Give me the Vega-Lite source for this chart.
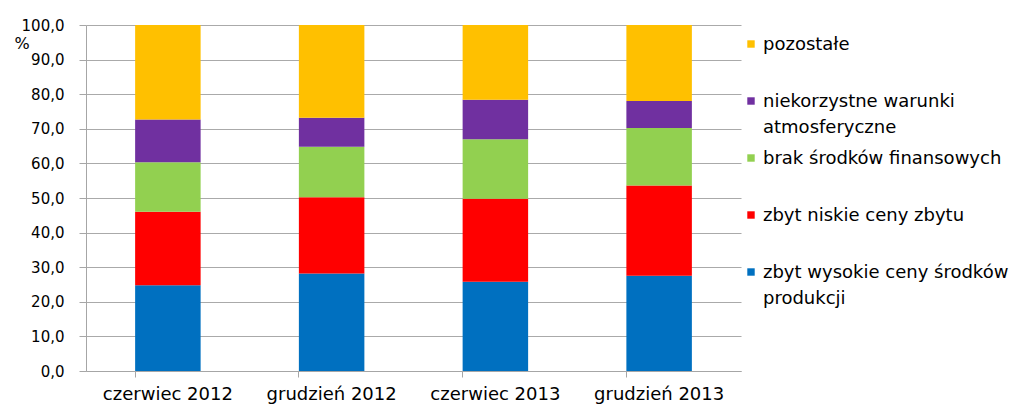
{
  "$schema": "https://vega.github.io/schema/vega-lite/v6.json",
  "autosize": "none",
  "width": 655,
  "height": 346,
  "padding": {"left": 86, "top": 25, "right": 278, "bottom": 38},
  "background": "white",
  "config": {"view": {"stroke": null}, "font": "DejaVu Sans"},
  "data": {"values": [
    {"okres": "czerwiec 2012", "kat": "zbyt wysokie ceny środków produkcji", "k": 1, "v": 24.8},
    {"okres": "czerwiec 2012", "kat": "zbyt niskie ceny zbytu", "k": 2, "v": 21.2},
    {"okres": "czerwiec 2012", "kat": "brak środków finansowych", "k": 3, "v": 14.3},
    {"okres": "czerwiec 2012", "kat": "niekorzystne warunki atmosferyczne", "k": 4, "v": 12.4},
    {"okres": "czerwiec 2012", "kat": "pozostałe", "k": 5, "v": 27.3},
    {"okres": "grudzień 2012", "kat": "zbyt wysokie ceny środków produkcji", "k": 1, "v": 28.2},
    {"okres": "grudzień 2012", "kat": "zbyt niskie ceny zbytu", "k": 2, "v": 22.0},
    {"okres": "grudzień 2012", "kat": "brak środków finansowych", "k": 3, "v": 14.6},
    {"okres": "grudzień 2012", "kat": "niekorzystne warunki atmosferyczne", "k": 4, "v": 8.4},
    {"okres": "grudzień 2012", "kat": "pozostałe", "k": 5, "v": 26.8},
    {"okres": "czerwiec 2013", "kat": "zbyt wysokie ceny środków produkcji", "k": 1, "v": 25.8},
    {"okres": "czerwiec 2013", "kat": "zbyt niskie ceny zbytu", "k": 2, "v": 24.0},
    {"okres": "czerwiec 2013", "kat": "brak środków finansowych", "k": 3, "v": 17.2},
    {"okres": "czerwiec 2013", "kat": "niekorzystne warunki atmosferyczne", "k": 4, "v": 11.4},
    {"okres": "czerwiec 2013", "kat": "pozostałe", "k": 5, "v": 21.6},
    {"okres": "grudzień 2013", "kat": "zbyt wysokie ceny środków produkcji", "k": 1, "v": 27.5},
    {"okres": "grudzień 2013", "kat": "zbyt niskie ceny zbytu", "k": 2, "v": 26.1},
    {"okres": "grudzień 2013", "kat": "brak środków finansowych", "k": 3, "v": 16.6},
    {"okres": "grudzień 2013", "kat": "niekorzystne warunki atmosferyczne", "k": 4, "v": 7.8},
    {"okres": "grudzień 2013", "kat": "pozostałe", "k": 5, "v": 22.0}
  ]},
  "mark": {"type": "bar"},
  "encoding": {
    "x": {
      "field": "okres", "type": "nominal",
      "sort": ["czerwiec 2012", "grudzień 2012", "czerwiec 2013", "grudzień 2013"],
      "scale": {"paddingInner": 0.6, "paddingOuter": 0.3},
      "axis": {
        "title": null, "labelAngle": 0, "labelFontSize": 18, "labelColor": "#000",
        "labelPadding": 8, "domainColor": "#a6a6a6", "tickColor": "#a6a6a6",
        "tickSize": 6, "bandPosition": 0, "grid": false
      }
    },
    "y": {
      "field": "v", "type": "quantitative", "stack": "zero",
      "scale": {"domain": [0, 100], "nice": false},
      "axis": {
        "values": [0, 10, 20, 30, 40, 50, 60, 70, 80, 90, 100],
        "labelExpr": "replace(format(datum.value, '.1f'), '.', ',')",
        "labelFontSize": 15, "labelColor": "#000", "labelPadding": 15,
        "tickSize": 7, "tickColor": "#a6a6a6", "domainColor": "#a6a6a6",
        "gridColor": "#aaaaaa", "gridWidth": 1.2,
        "title": "%", "titleAngle": 0, "titleFontSize": 16, "titleFontWeight": "normal",
        "titleX": -72, "titleY": 23, "titleAlign": "left", "titleBaseline": "alphabetic"
      }
    },
    "order": {"field": "k", "type": "quantitative"},
    "color": {
      "field": "kat", "type": "nominal",
      "scale": {
        "domain": ["pozostałe", "niekorzystne warunki atmosferyczne", "brak środków finansowych", "zbyt niskie ceny zbytu", "zbyt wysokie ceny środków produkcji"],
        "range": ["#FFC000", "#7030A0", "#92D050", "#FF0000", "#0070C0"]
      },
      "legend": {
        "title": null, "orient": "none", "legendX": 656, "legendY": 10,
        "symbolType": "square", "symbolSize": 55, "symbolStrokeWidth": 0,
        "labelFontSize": 18, "labelColor": "#000", "labelLimit": 400,
        "labelExpr": "datum.label == 'niekorzystne warunki atmosferyczne' ? ['niekorzystne warunki', 'atmosferyczne'] : datum.label == 'zbyt wysokie ceny środków produkcji' ? ['zbyt wysokie ceny środków', 'produkcji'] : datum.label",
        "labelBaseline": "top", "labelOffset": 3,
        "gridAlign": "all", "rowPadding": 12, "padding": 0,
        "encode": {"labels": {"update": {"lineHeight": {"value": 26}, "dy": {"value": -8}}}}
      }
    }
  }
}
